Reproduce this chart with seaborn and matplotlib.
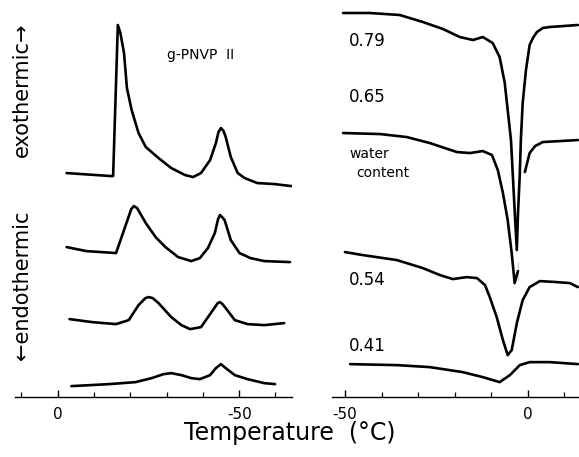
import numpy as np
import pandas as pd
import seaborn as sns
import matplotlib.pyplot as plt

# DSC traces of g-PNVP II
# left: cooling runs (temperature axis runs from 0 down to -60 C)
# heat flow in arbitrary units, each trace already shifted by its offset
cool_1_T = [-2.5, -14.7, -15.3, -16.6, -17.3, -18.3, -19.1, -20.4, -22.3, -24.3, -27.8,
            -31.3, -35.1, -37.3, -39.5, -42.0, -43.6, -44.3, -45.0, -45.7, -46.3, -47.7, -49.6,
            -51.5, -55.0, -59.7, -64.3]
cool_1_q = [224, 221, 221, 372, 364, 344, 309, 287, 264, 250, 239,
            229, 222, 220, 224, 237, 254, 265, 269, 266, 260, 240, 224,
            219, 214, 213, 211]

cool_2_T = [-2.5, -7.9, -16.1, -20.3, -21.0, -21.9, -24.3, -27.0, -29.7, -33.2, -36.8, -39.2,
            -41.4, -43.3, -44.2, -44.7, -45.3, -46.0, -47.7, -50.1, -53.1, -56.9, -64.0]
cool_2_q = [150, 146, 144, 188, 191, 189, 174, 160, 150, 140, 136, 139,
            149, 164, 178, 182, 180, 177, 157, 144, 139, 136, 135]

cool_3_T = [-3.3, -9.5, -16.1, -19.6, -22.3, -24.2, -25.1, -26.2, -27.8, -31.3, -34.1, -36.5,
            -39.5, -42.2, -44.1, -44.7, -45.4, -46.3, -48.8, -52.3, -56.9, -62.4]
cool_3_q = [78, 75, 73, 77, 92, 99, 100, 99, 94, 80, 72, 68,
            70, 84, 94, 95, 93, 89, 77, 73, 72, 74]

cool_4_T = [-3.8, -14.2, -21.5, -25.9, -29.2, -31.3, -34.1, -36.8, -39.2, -42.0, -43.6, -45.0,
            -46.3, -48.8, -52.3, -56.9, -59.9]
cool_4_q = [11, 13, 15, 19, 23, 24, 22, 19, 18, 22, 29, 33,
            29, 22, 18, 14, 13]

# right: heating runs for four water contents
heat_079_T = [-50.5, -43.2, -35.0, -28.7, -23.2, -18.6, -15.0, -12.3, -9.6, -7.7, -6.3, -5.5,
              -4.6, -4.1, -3.6, -3.0, -2.7, -2.2, -1.9, -1.4, -0.5, 0.5, 1.4, 2.5, 4.1, 6.0, 13.7]
heat_079_q = [384, 384, 382, 375, 368, 360, 357, 360, 354, 340, 314, 287,
              257, 222, 187, 147, 182, 222, 257, 294, 327, 352, 359, 365, 369, 370, 372]

heat_065_T = [-50.5, -40.4, -33.1, -26.8, -19.4, -15.8, -12.3, -9.8, -8.2, -6.8, -5.5, -4.4,
              -3.6, -2.7, -2.7]
heat_065_q = [264, 263, 260, 254, 245, 244, 246, 242, 227, 204, 177, 144,
              114, 117, 135]
# pen lifted on the way back up, the trace picks up again here
heat_065b_T = [-0.8, 0.5, 2.0, 4.1, 13.7]
heat_065b_q = [225, 244, 251, 255, 257]

heat_054_T = [-50.0, -45.1, -35.8, -28.7, -24.0, -20.5, -16.7, -13.9, -11.7, -10.4, -8.5, -6.8,
              -5.5, -4.4, -3.0, -1.4, 0.5, 3.3, 7.9, 11.5, 13.7]
heat_054_q = [145, 142, 137, 129, 122, 118, 120, 119, 112, 100, 80, 57,
              42, 47, 74, 97, 110, 116, 115, 114, 110]

heat_041_T = [-48.6, -35.8, -26.8, -17.8, -12.3, -7.7, -4.9, -2.2, 0.5, 6.0, 13.7]
heat_041_q = [33, 32, 30, 25, 20, 15, 22, 32, 35, 35, 33]

water = ["0.79", "0.65", "0.54", "0.41"]

sns.set_style("white")
plt.rcParams['font.family'] = ['DejaVu Sans']
plt.rcParams['text.color'] = 'black'
plt.rcParams['xtick.color'] = 'black'
plt.rcParams['axes.labelcolor'] = 'black'

fig = plt.figure(figsize=(5.79, 4.57), dpi=100)
ax1 = fig.add_axes([0.026, 0.131, 0.478, 0.869])
ax2 = fig.add_axes([0.573, 0.131, 0.427, 0.869])

lw = 1.9
line_kw = dict(color="black", linewidth=lw, sort=False,
               solid_joinstyle="round", solid_capstyle="round")
for T, q in [(cool_1_T, cool_1_q), (cool_2_T, cool_2_q), (cool_3_T, cool_3_q), (cool_4_T, cool_4_q)]:
    sns.lineplot(x=T, y=q, ax=ax1, **line_kw)

for T, q in [(heat_079_T, heat_079_q), (heat_065_T, heat_065_q), (heat_065b_T, heat_065b_q),
             (heat_054_T, heat_054_q), (heat_041_T, heat_041_q)]:
    sns.lineplot(x=T, y=q, ax=ax2, **line_kw)

ax1.set_xlim(11.7, -64.5)
ax2.set_xlim(-53.6, 14.0)
for ax in (ax1, ax2):
    ax.set_ylim(0, 397)
    ax.set_yticks([])
    for s in ["top", "left", "right"]:
        ax.spines[s].set_visible(False)
    ax.spines["bottom"].set_linewidth(1.0)
    ax.spines["bottom"].set_color("black")
    ax.tick_params(axis="x", which="major", direction="in", length=5, width=1,
                   labelsize=11, pad=7, bottom=True, colors="black")
    ax.tick_params(axis="x", which="minor", direction="in", length=3.5, width=0.9,
                   bottom=True, colors="black")
    ax.set_xlabel("")
    ax.set_ylabel("")

ax1.set_xticks([0, -50])
ax1.set_xticklabels(["0", "-50"])
ax1.set_xticks([10, -10, -20, -30, -40, -60], minor=True)
ax2.set_xticks([-50, 0])
ax2.set_xticklabels(["-50", "0"])
ax2.set_xticks([-40, -30, -20, -10, 10], minor=True)

ax1.text(0.55, 0.862, "g-PNVP  II", transform=ax1.transAxes, fontsize=10, ha="left", va="center")

for w, yy in zip(water, [0.897, 0.755, 0.295, 0.128]):
    ax2.text(0.07, yy, w, transform=ax2.transAxes, fontsize=12, ha="left", va="center")
ax2.text(0.07, 0.612, "water", transform=ax2.transAxes, fontsize=10, ha="left", va="center")
ax2.text(0.10, 0.565, "content", transform=ax2.transAxes, fontsize=10, ha="left", va="center")

fig.text(0.038, 1 - 90 / 457, "exothermic\u2192", rotation=90, fontsize=15, ha="center", va="center")
fig.text(0.038, 1 - 285 / 457, "\u2190endothermic", rotation=90, fontsize=15, ha="center", va="center")
fig.text(0.5, 1 - 433 / 457, "Temperature  (\u00b0C)", fontsize=17, ha="center", va="center")

fig.savefig("out.png", dpi=100)
